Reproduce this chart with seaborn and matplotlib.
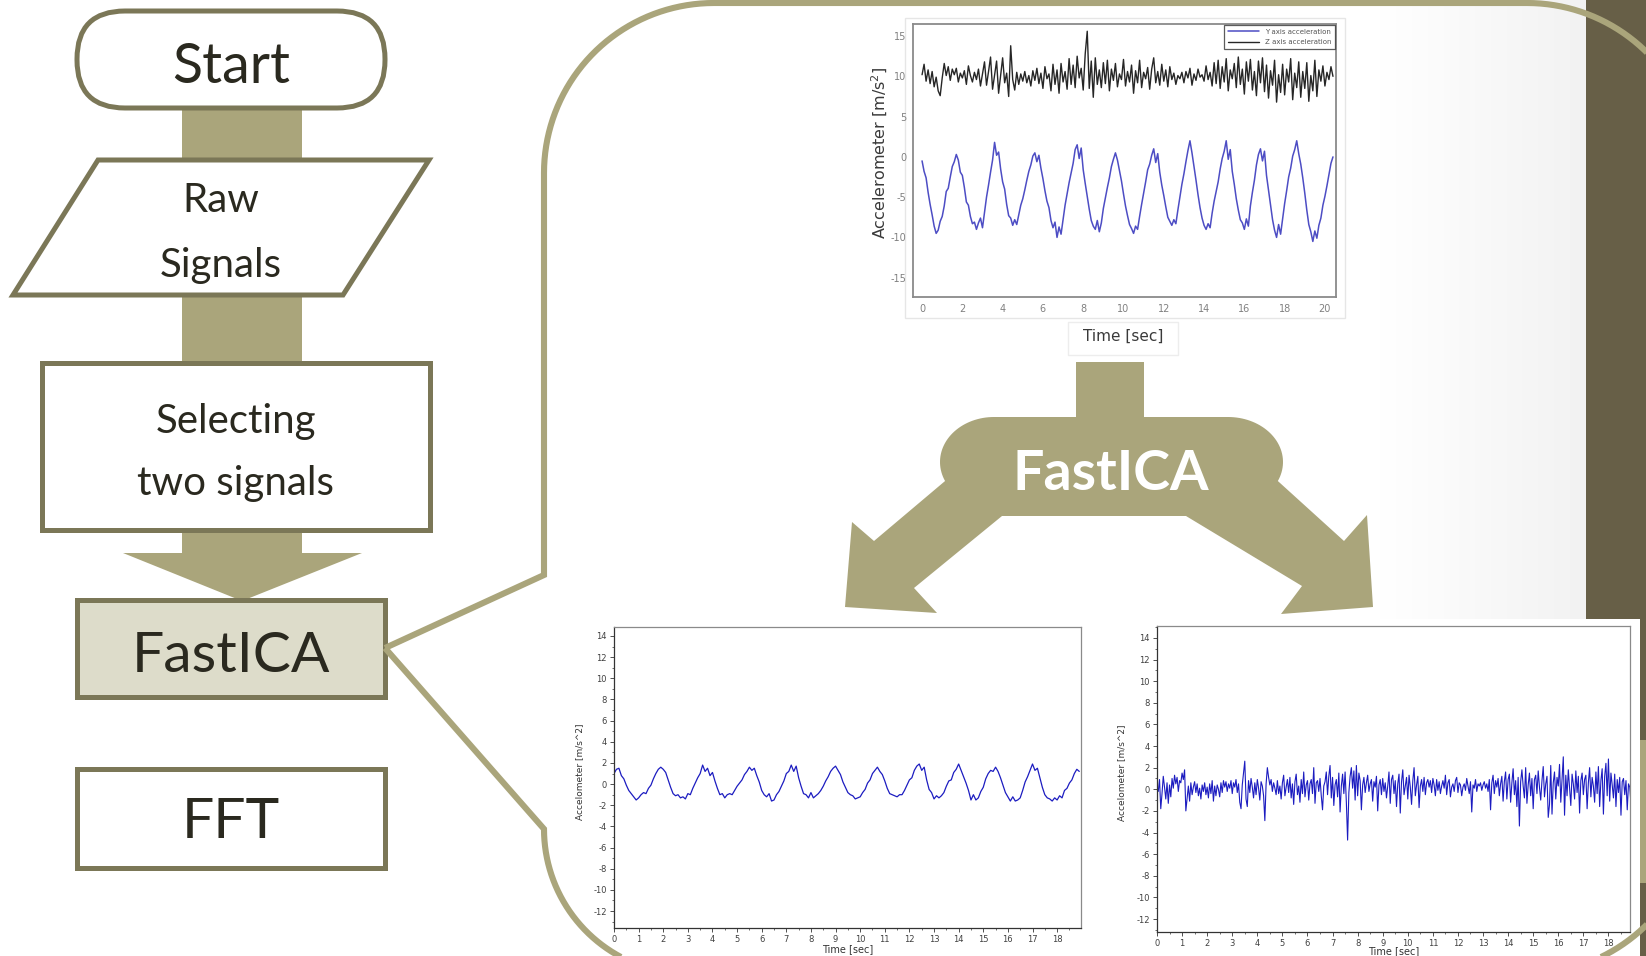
import numpy as np
import pandas as pd
import matplotlib
matplotlib.use("Agg")
import matplotlib.pyplot as plt
import seaborn as sns
from matplotlib.patches import Polygon, FancyBboxPatch, Rectangle
from matplotlib.ticker import MultipleLocator

# ---------------- data ----------------
flow_start = "Start"
flow_raw = ["Raw", "Signals"]
flow_select = ["Selecting", "two signals"]
flow_ica = "FastICA"
flow_fft = "FFT"
arrow_label = "FastICA"

# top chart: raw accelerometer signals, sampled every 0.1 s
top_dt = 0.1
top_y_axis = [
    -0.5, -1.8, -2.6, -4.4, -5.9, -7.2, -8.6, -9.5,
    -9.1, -8.0, -7.4, -6.1, -4.3, -3.9, -2.5, -1.2, -0.6, 0.3,
    -0.4, -1.9, -2.3, -3.8, -5.6, -6.0, -7.4, -8.3, -8.1, -9.0,
    -8.2, -7.6, -8.8, -6.9, -5.0, -3.5, -1.9, -0.4, 1.8,
    0.2, 0.6, -1.5, -3.1, -4.0, -5.9, -7.3, -7.6, -8.5,
    -7.8, -8.4, -7.2, -6.0, -5.2, -4.1, -2.9, -1.8, -1.0, 0.1, 0.5,
    -0.6, 0.2, -1.4, -2.7, -4.2, -5.5, -6.3, -7.9, -8.8, -8.1, -10.0,
    -8.7, -9.6, -7.8, -6.0, -4.6, -3.2, -2.0, -0.8, 0.9, 1.5,
    -0.2, 1.1, -1.6, -3.3, -4.9, -6.5, -7.9, -8.6, -9.0,
    -7.9, -9.3, -8.2, -6.4, -5.1, -3.8, -2.6, -1.2, -0.3, 0.5,
    -0.4, -1.7, -3.0, -4.6, -6.1, -7.3, -8.4, -8.9, -9.5,
    -8.6, -9.0, -7.4, -5.9, -4.5, -3.1, -1.6, -0.9, 0.2, 1.0,
    -0.7, 0.4, -1.9, -3.5, -4.8, -6.2, -7.5, -8.0, -8.5,
    -7.8, -8.3, -6.6, -5.0, -3.4, -2.1, -0.6, 0.8, 2.0,
    0.5, -1.2, -2.9, -4.7, -6.3, -7.6, -8.5, -9.0,
    -8.3, -8.8, -7.0, -5.5, -4.3, -3.1, -1.5, -0.2, 0.7, 2.0,
    -0.3, 0.9, -1.8, -3.4, -5.2, -6.6, -7.8, -8.2, -9.0,
    -7.7, -8.6, -6.1, -4.4, -2.9, -1.0, 0.3, 1.0,
    -0.5, 0.7, -2.3, -4.1, -6.0, -7.8, -9.1, -10.0,
    -8.4, -9.6, -7.7, -5.8, -4.2, -2.5, -1.4, 0.1, 0.9, 2.0,
    0.4, -0.9, -2.6, -4.5, -6.6, -8.4, -9.3, -10.5,
    -9.2, -10.1, -8.5, -7.6, -6.0, -4.9, -3.6, -2.2, -0.8, 0.0,
]
top_z_axis = [
    10.2, 11.5, 9.4, 10.8, 9.1, 10.6, 8.7, 9.9, 8.2, 7.6,
    9.8, 11.6, 10.1, 11.2, 9.5, 10.9, 10.2, 11.0, 9.3, 10.4,
    9.8, 10.7, 9.0, 11.3, 10.1, 9.3, 10.5, 9.6, 10.9, 8.8,
    10.3, 11.8, 8.9, 10.6, 12.4, 8.4, 10.2, 11.9, 7.9, 10.1,
    12.3, 9.2, 10.4, 7.5, 13.8, 9.6, 8.3, 10.5, 9.0, 10.3,
    9.4, 10.6, 9.2, 10.1, 8.8, 10.7, 9.5, 11.0, 9.1, 10.4,
    8.5, 11.2, 9.7, 10.3, 8.2, 11.5, 9.0, 10.8, 7.9, 11.6,
    9.3, 10.6, 8.4, 12.2, 9.0, 11.4, 8.6, 12.5, 9.8, 11.0,
    8.3, 12.8, 15.6, 8.5, 11.9, 7.4, 12.3, 9.0, 10.8, 8.6,
    11.7, 9.1, 12.0, 8.2, 10.9, 9.5, 11.6, 8.7, 10.3, 9.6,
    12.1, 8.8, 10.6, 9.3, 11.4, 7.9, 10.7, 9.2, 12.0, 8.6,
    10.5, 9.7, 11.1, 8.4, 10.9, 12.3, 9.2, 10.6, 8.9, 11.5,
    9.4, 10.8, 8.7, 11.2, 9.6, 10.4, 9.0, 10.1, 9.7, 10.5,
    9.2, 10.6, 9.8, 11.0, 8.9, 10.3, 9.5, 10.9, 9.9, 10.2,
    9.4, 11.3, 9.6, 10.5, 8.8, 11.7, 9.1, 12.0, 8.5, 11.2,
    9.3, 12.2, 8.2, 10.8, 9.7, 11.6, 8.6, 12.4, 9.0, 10.9,
    7.8, 11.8, 9.4, 12.1, 8.3, 10.6, 7.6, 11.9, 9.2, 12.3,
    8.1, 11.4, 7.3, 10.7, 8.9, 12.0, 6.8, 10.2, 8.0, 11.5,
    7.7, 10.9, 9.3, 12.2, 7.1, 10.4, 8.6, 11.8, 7.4, 10.6,
    8.5, 11.7, 6.9, 10.1, 8.2, 12.0, 7.5, 10.8, 9.4, 11.3,
    8.8, 10.5, 9.6, 11.2, 10.0,
]
top_legend = ["Y axis acceleration", "Z axis acceleration"]
top_xticks = list(range(0, 21, 2))
top_yticks = [-15, -10, -5, 0, 5, 10, 15]

# FastICA output 1 (periodic component), sampled every 0.1 s
ica1_dt = 0.1
ica1 = [
    1.0, 1.4, 1.5,
    0.8, 0.5, -0.1, -0.6, -0.9, -1.2, -1.5,
    -1.3, -1.0, -0.8, -0.9, -0.4, -0.1, 0.5, 1.0, 1.4, 1.6,
    1.4, 1.1, 0.4, -0.3, -0.9, -1.1, -1.0, -1.3,
    -1.2, -1.4, -0.9, -1.0, -0.4, 0.1, 0.6, 1.0, 1.8,
    1.2, 1.5, 0.8, 1.1, 0.3, -0.4, -1.0, -0.9, -1.3,
    -1.0, -0.9, -1.0, -0.6, -0.2, 0.1, 0.4, 0.9, 1.2, 1.6,
    1.3, 1.5, 0.8, 0.2, -0.6, -1.0, -1.2, -0.9, -1.6,
    -1.5, -1.0, -0.7, -0.2, 0.3, 1.0, 1.2, 1.8,
    1.2, 1.7, 0.6, -0.2, -0.9, -1.0, -1.3, -0.8, -1.3,
    -1.1, -0.9, -0.6, -0.2, 0.3, 0.7, 1.2, 1.5, 1.7,
    1.3, 0.9, 0.2, -0.3, -0.8, -1.0, -1.1, -1.4, -1.3,
    -1.2, -0.8, -0.5, 0.1, 0.4, 1.0, 1.3, 1.6,
    1.2, 0.9, 0.3, -0.4, -0.9, -1.0, -1.1, -1.2,
    -1.0, -1.0, -0.6, -0.1, 0.4, 0.6, 1.3, 1.7, 1.9,
    1.3, 1.6, 0.4, -0.5, -0.8, -1.4, -1.1, -1.3,
    -1.1, -0.8, -0.2, 0.3, 0.4, 1.1, 1.4, 1.9,
    1.3, 0.7, 0.1, -0.6, -1.5, -1.0, -1.5,
    -1.3, -0.7, -0.3, 0.5, 1.0, 1.3, 1.2, 1.6,
    1.2, 0.6, -0.1, -0.8, -1.2, -1.6, -1.2, -1.6,
    -1.5, -1.3, -0.6, 0.2, 0.7, 1.3, 1.9,
    1.3, 1.5, 0.6, -0.3, -1.0, -1.3, -1.4, -1.6,
    -1.3, -1.5, -1.1, -1.3, -0.6, -0.4, 0.1, 0.4, 1.0, 1.4, 1.2,
]

# FastICA output 2 (noise component), sampled every 0.05 s
ica2_dt = 0.05
ica2 = [
    0.3, -0.2, 0.9, -1.8, -0.4, 1.2, 0.2, -0.9, 0.6, -1.3, 0.4, -0.7, 1.0, 0.1, 1.3, 0.5, 1.1, -0.2, 0.8, 0.6,
    1.5, 0.9, 1.8, -2.0, -0.8, 0.3, -1.1, 0.6, -0.5, 0.2, 0.7, -0.3, 0.5, -0.6, 0.1, -0.9, 0.4, -0.2, 0.6, -0.5,
    0.2, -0.8, 0.5, -0.4, 0.8, -1.1, 0.3, -0.6, 0.4, 0.0, -0.7, 0.6, -0.3, 0.8, 0.2, 0.7, -0.2, 0.5, 0.1, 0.8,
    -0.4, 0.6, 0.2, 0.9, -0.3, 0.5, -1.2, -1.8, 0.4, 1.5, 2.6, -0.9, -1.6, 0.8, -0.3, 1.0, 0.2, -0.8, 0.6, -0.5,
    0.9, 0.1, -1.0, 0.7, 0.3, -0.6, -2.9, 0.5, 2.0, 1.1, 0.4, 0.9, -0.2, 0.6, 0.1, -0.5, 0.8, -0.4, 0.3, -0.9,
    0.6, 1.3, -0.6, 0.2, 0.9, -0.3, 1.1, -0.8, 0.5, -1.4, 0.7, 1.4, -0.5, 0.3, -1.2, 0.9, -0.4, 1.6, -0.7, 0.4,
    0.8, -1.0, 0.5, 0.9, -0.4, 2.0, -1.3, 0.6, 0.8, -0.2, 1.0, -0.6, -1.9, 0.3, 0.7, 1.6, -0.5, 1.2, 2.2, -0.8,
    1.1, -1.5, 0.4, 0.9, -0.7, 1.5, -2.1, 0.3, 1.4, -0.4, 1.6, -1.2, -4.7, -0.3, 1.2, 2.0, 0.1, 1.7, -1.0, 2.2,
    -0.6, 1.5, 0.8, -1.9, 0.4, 1.1, -0.3, 0.6, 1.3, -0.2, 0.5, 0.9, -1.1, 0.7, 0.2, 1.2, -2.0, 0.4, 0.9, -0.5,
    1.0, -0.2, 0.6, -0.8, 0.3, 1.6, -1.3, 0.9, 1.3, -0.4, 0.8, -1.6, 0.5, 1.4, -2.2, 0.7, 1.8, -0.5, 0.3, 1.1,
    -0.9, 1.3, 0.2, -1.4, 0.8, 2.0, -0.6, 0.4, 1.2, -1.7, 0.3, 0.9, -0.2, 1.1, -0.5, 0.6, 0.9, 0.2, 0.8, -0.3,
    1.0, 0.4, -0.6, 0.9, -0.1, 0.7, -0.4, 0.3, 0.8, 0.1, 1.3, -0.5, 0.6, 0.9, -0.7, 0.2, 0.5, -0.2, 0.8, 1.1,
    -0.3, 0.6, 0.4, -0.6, 0.2, 0.5, -0.1, 1.0, 0.3, -0.4, 0.7, -2.1, 0.4, 0.1, 0.9, -0.2, 0.5, 0.3, 0.6, -0.1,
    0.4, 0.7, 0.1, 0.5, -0.2, 0.9, -1.9, 0.6, 1.3, -0.4, 0.8, 0.2, 1.0, -0.6, 0.5, 1.2, -1.1, 0.7, 1.6, -0.9,
    0.9, 1.4, -1.2, 0.6, 1.9, -0.5, 0.8, -1.6, 1.1, -3.4, 0.7, 1.8, 0.3, -0.8, 2.0, -1.3, 0.4, 1.5, -0.6, 1.0,
    -1.8, 0.9, 1.3, -0.4, 1.7, 0.2, -1.0, 0.8, 2.1, -0.7, 0.5, 1.2, -2.6, -1.4, 2.2, -2.3, 0.6, 1.6, -0.9, 1.1,
    0.3, 2.3, -1.2, 0.9, 3.0, -2.4, 1.3, -0.6, 1.8, 0.2, -1.5, 1.4, 0.5, -0.9, 1.7, -0.3, 1.2, -2.2, 0.8, 1.5,
    -0.5, 0.9, 1.3, -1.8, 0.6, 2.0, -0.7, 1.1, 0.3, -1.2, 1.6, -0.4, 2.1, -1.6, 0.8, 1.9, -2.3, 1.2, 2.4, -0.6,
    2.8, -1.1, 1.5, 0.4, -0.8, 1.4, -1.6, 0.9, -0.3, 1.1, -2.4, 0.7, 1.0, -0.5, 0.8, -1.9, 0.5, 0.2, -1.4, 0.3,
]
ica_xticks = list(range(0, 19))
ica_yticks = list(range(-12, 15, 2))
ica_xlabel = "Time [sec]"
ica_ylabel = "Accelometer [m/s^2]"

# ---------------- styling ----------------
sns.set_theme(style="white")
plt.rcParams['font.family'] = ['DejaVu Sans']
plt.rcParams['axes.unicode_minus'] = False

W, H = 1646, 956
fig = plt.figure(figsize=(W / 100, H / 100), dpi=100)
fig.patch.set_facecolor("white")

OLIVE_DARK = "#7b7757"
OLIVE = "#aaa57b"
PANEL = "#675f47"
TXT = "#2a291f"
FLOW_FONT = ['Lato', 'DejaVu Sans']

bg = fig.add_axes([0, 0, 1, 1], zorder=0)
bg.set_xlim(0, W)
bg.set_ylim(H, 0)
bg.axis('off')


def arc(cx, cy, rx, a0, a1, ry=None, n=40):
    ry = rx if ry is None else ry
    a = np.radians(np.linspace(a0, a1, n))
    return list(zip(cx + rx * np.cos(a), cy - ry * np.sin(a)))


# soft grey gradient near the right panel
grad = np.linspace(0, 1, 256)[None, :]
bg.imshow(grad, extent=(1380, 1586, H, 0), cmap=matplotlib.colors.LinearSegmentedColormap.from_list(
    "g", ["#ffffff", "#f2f2f2"]), aspect='auto', zorder=0)
bg.set_xlim(0, W)
bg.set_ylim(H, 0)

# dark right panel
bg.add_patch(Rectangle((1586, 0), 60, H, facecolor=PANEL, edgecolor='none', zorder=1))
bg.add_patch(Rectangle((1640, 740), 6, 143, facecolor=OLIVE, edgecolor='none', zorder=1))
# white backgrounds of lower chart images
bg.add_patch(Rectangle((1095, 619), 545, 340, facecolor='white', edgecolor='none', zorder=2))
bg.add_patch(Rectangle((560, 600), 530, 360, facecolor='white', edgecolor='none', zorder=2))
# faint frame of the top chart image
bg.add_patch(Rectangle((905, 18), 440, 300, facecolor='none', edgecolor='#e6e6e6', lw=1, zorder=2))
bg.add_patch(Rectangle((1068, 322), 110, 33, facecolor='none', edgecolor='#ededed', lw=1, zorder=2))

# ---- flowchart ----
bg.add_patch(Rectangle((182, 105), 120, 450, facecolor=OLIVE, edgecolor='none', zorder=3))
bg.add_patch(Polygon([(123, 553), (362, 553), (242, 601)], closed=True,
                     facecolor=OLIVE, edgecolor='none', zorder=3))

lw_box = 3.6
bg.add_patch(FancyBboxPatch((77, 11), 308, 97, boxstyle="round,pad=0,rounding_size=48",
                            facecolor='white', edgecolor=OLIVE_DARK, lw=lw_box, zorder=4))
bg.add_patch(Polygon([(98, 160), (429, 160), (343, 295), (13, 295)], closed=True,
                     facecolor='white', edgecolor=OLIVE_DARK, lw=lw_box, zorder=4, joinstyle='miter'))
bg.add_patch(Rectangle((42, 363), 388, 167, facecolor='white', edgecolor=OLIVE_DARK, lw=lw_box, zorder=4))
bg.add_patch(Rectangle((77, 600), 308, 97, facecolor='#dddcca', edgecolor=OLIVE_DARK, lw=lw_box, zorder=4))
bg.add_patch(Rectangle((77, 769), 308, 99, facecolor='white', edgecolor=OLIVE_DARK, lw=lw_box, zorder=4))

bg.text(231, 67, flow_start, ha='center', va='center', fontsize=40, color=TXT, family=FLOW_FONT, zorder=5)
bg.text(221, 200, flow_raw[0], ha='center', va='center', fontsize=29, color=TXT, family=FLOW_FONT, zorder=5)
bg.text(221, 266, flow_raw[1], ha='center', va='center', fontsize=29, color=TXT, family=FLOW_FONT, zorder=5)
bg.text(236, 422, flow_select[0], ha='center', va='center', fontsize=29, color=TXT, family=FLOW_FONT, zorder=5)
bg.text(236, 483, flow_select[1], ha='center', va='center', fontsize=29, color=TXT, family=FLOW_FONT, zorder=5)
bg.text(231, 656, flow_ica, ha='center', va='center', fontsize=41, color=TXT, family=FLOW_FONT, zorder=5)
bg.text(231, 823, flow_fft, ha='center', va='center', fontsize=41, color=TXT, family=FLOW_FONT, zorder=5)

# ---- FastICA split arrow ----
pts = [(1076, 362), (1144, 362), (1144, 417)]
pts += arc(1228, 462, 55, 90, -25, ry=45)
pts += [(1344, 541), (1367, 515), (1373, 607), (1281, 614), (1302, 586), (1186, 516),
        (1002, 516), (914, 588), (937, 613), (845, 607), (852, 522), (874, 541)]
pts += arc(994, 462, 54, 205, 90, ry=45)
pts += [(1076, 417)]
bg.add_patch(Polygon(pts, closed=True, facecolor=OLIVE, edgecolor='none', zorder=3))
bg.text(1111, 474, arrow_label, ha='center', va='center', fontsize=40, fontweight='bold',
        color='white', family=FLOW_FONT, zorder=5)


def add_ax(x0, y0, x1, y1, z=3):
    return fig.add_axes([x0 / W, 1 - y1 / H, (x1 - x0) / W, (y1 - y0) / H], zorder=z)


# ---- top chart ----
t_top = np.arange(len(top_y_axis)) * top_dt
df_top = pd.DataFrame({"t": t_top, "Y": top_y_axis, "Z": top_z_axis[:len(t_top)]})
ax0 = add_ax(913, 24, 1336, 297)
ax0.set_facecolor('white')
sns.lineplot(data=df_top, x="t", y="Y", ax=ax0, color="#4d4dc4", lw=1.1, label=top_legend[0])
sns.lineplot(data=df_top, x="t", y="Z", ax=ax0, color="#262626", lw=1.0, label=top_legend[1])
ax0.set_xlim(-0.45, 20.55)
ax0.set_ylim(-17.4, 16.5)
ax0.set_xticks(top_xticks)
ax0.set_yticks(top_yticks)
ax0.tick_params(length=0, labelsize=7, labelcolor="#808080", pad=5)
for s in ax0.spines.values():
    s.set_color("#8a8a8a")
    s.set_linewidth(1.3)
ax0.set_xlabel("Time [sec]", fontsize=11, color="#3a3a3a")
ax0.set_ylabel("Accelerometer [m/s$^2$]", fontsize=11.5, color="#3a3a3a")
ax0.xaxis.set_label_coords(0.497, -0.115)
ax0.yaxis.set_label_coords(-0.055, 0.53)
leg = ax0.legend(loc='upper right', fontsize=5, frameon=True, fancybox=False, borderaxespad=0.1,
                 handlelength=4.5, labelspacing=0.6, borderpad=0.6)
leg.get_frame().set_edgecolor("#333333")
leg.get_frame().set_linewidth(0.9)
for txt in leg.get_texts():
    txt.set_color("#555555")


def style_ica(ax, ylim, xlim):
    ax.set_facecolor('white')
    ax.set_xlim(*xlim)
    ax.set_ylim(*ylim)
    ax.set_xticks(ica_xticks)
    ax.set_yticks(ica_yticks)
    ax.xaxis.set_minor_locator(MultipleLocator(0.5))
    ax.yaxis.set_minor_locator(MultipleLocator(1))
    ax.tick_params(which='major', direction='out', length=3, width=0.6, labelsize=6,
                   color="#333333", labelcolor="#404040", pad=2, bottom=True, left=True)
    ax.tick_params(which='minor', direction='out', length=1.6, width=0.5, color="#333333",
                   bottom=True, left=True)
    for side, s in ax.spines.items():
        s.set_linewidth(0.9)
        s.set_color("#333333" if side in ("left", "bottom") else "#8a8a8a")
    ax.set_xlabel(ica_xlabel, fontsize=7, color="#333333")
    ax.set_ylabel(ica_ylabel, fontsize=6.5, color="#333333")


# ---- bottom-left chart ----
t1 = np.arange(len(ica1)) * ica1_dt
df1 = pd.DataFrame({"t": t1, "v": ica1})
ax1 = add_ax(614, 627, 1081, 928)
sns.lineplot(data=df1, x="t", y="v", ax=ax1, color="#1c1cc0", lw=0.9)
style_ica(ax1, (-13.6, 14.85), (0, 18.97))
ax1.xaxis.set_label_coords(0.5, -0.055)
ax1.yaxis.set_label_coords(-0.065, 0.52)

# ---- bottom-right chart ----
t2 = np.arange(len(ica2)) * ica2_dt
df2 = pd.DataFrame({"t": t2, "v": ica2})
ax2 = add_ax(1157, 626, 1630, 932)
sns.lineplot(data=df2, x="t", y="v", ax=ax2, color="#1c1cc0", lw=0.8)
style_ica(ax2, (-13.2, 15.1), (0, 18.86))
ax2.xaxis.set_label_coords(0.5, -0.045)
ax2.yaxis.set_label_coords(-0.065, 0.52)

# ---- callout outline (on top) ----
ov = fig.add_axes([0, 0, 1, 1], zorder=10)
ov.set_xlim(0, W)
ov.set_ylim(H, 0)
ov.axis('off')
ov.patch.set_alpha(0)
upper = [(385, 648), (544, 575), (544, 173)] + arc(714, 173, 170, 180, 90) + [(1527, 3)] + arc(1527, 173, 170, 90, 0)
lower = [(385, 648), (544, 829)] + arc(689, 829, 145, 180, 270) + [(1527, 974)] + arc(1527, 804, 170, 270, 360)
for seg in (upper, lower):
    xs, ys = zip(*seg)
    ov.plot(xs, ys, color=OLIVE, lw=4.4, solid_joinstyle='miter', solid_capstyle='butt', clip_on=True)

fig.savefig("out.png", dpi=100, facecolor="white")
